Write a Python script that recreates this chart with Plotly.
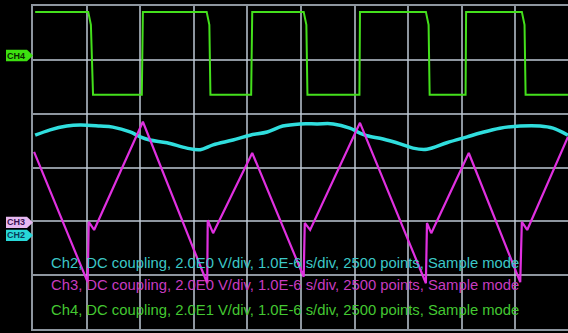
import plotly.graph_objects as go

# time in microseconds (1.0E-6 s/div), values in screen divisions (0 = bottom, 6 = top)
ch4_t = [0.04, 1.03, 1.08, 1.12, 2.03, 2.05, 3.24, 3.29, 3.31, 4.07, 4.09,
         5.05, 5.10, 5.12, 6.09, 6.10, 7.33, 7.38, 7.40, 8.07, 8.08,
         9.12, 9.17, 9.19, 9.98]
ch4_v = [5.89, 5.89, 5.65, 4.35, 4.35, 5.89, 5.89, 5.65, 4.35, 4.35, 5.89,
         5.89, 5.65, 4.35, 4.35, 5.89, 5.89, 5.65, 4.35, 4.35, 5.89,
         5.89, 5.65, 4.35, 4.35]

ch2_t = [0.04, 0.32, 0.63, 0.88, 1.25, 1.49, 1.81, 2.00, 2.18, 2.50, 2.87, 3.12,
         3.36, 3.73, 4.05, 4.37, 4.66, 4.98, 5.30, 5.60, 5.91, 6.10, 6.23, 6.53,
         6.85, 7.09, 7.35, 7.72, 8.10, 8.34, 8.71, 9.09, 9.46, 9.70, 9.98]
ch2_v = [3.60, 3.70, 3.77, 3.79, 3.77, 3.75, 3.66, 3.57, 3.51, 3.46, 3.36, 3.33,
         3.42, 3.51, 3.60, 3.66, 3.77, 3.81, 3.81, 3.81, 3.73, 3.64, 3.59, 3.53,
         3.44, 3.36, 3.34, 3.46, 3.57, 3.64, 3.73, 3.77, 3.77, 3.73, 3.60]

ch3_t = [0.02, 1.02, 1.04, 1.14, 2.05, 3.25, 3.26, 3.36, 4.09, 5.05, 5.07, 5.17,
         6.10, 7.33, 7.35, 7.43, 8.13, 9.09, 9.12, 9.22, 9.98]
ch3_v = [3.29, 0.87, 1.99, 1.84, 3.85, 0.85, 2.02, 1.78, 3.27, 0.97, 1.97, 1.84,
         3.83, 0.85, 1.97, 1.78, 3.27, 0.87, 1.99, 1.84, 3.57]

marker_names = ["CH4", "CH3", "CH2"]
marker_levels = [5.08, 1.98, 1.74]
marker_fill = ["#3de010", "#e6b8f0", "#28d8d8"]
marker_text = ["#0a2a00", "#3a1050", "#0a3a5a"]

info_lines = [
    "Ch2, DC coupling, 2.0E0 V/div, 1.0E-6 s/div, 2500 points, Sample mode",
    "Ch3, DC coupling, 2.0E0 V/div, 1.0E-6 s/div, 2500 points, Sample mode",
    "Ch4, DC coupling, 2.0E1 V/div, 1.0E-6 s/div, 2500 points, Sample mode",
]
info_levels = [1.23, 0.82, 0.35]
info_colors = ["#3cc8c8", "#c83cc0", "#44c832"]

fig = go.Figure()
fig.add_trace(go.Scatter(x=ch4_t, y=ch4_v, mode="lines",
                         line=dict(color="#44e01c", width=2)))
fig.add_trace(go.Scatter(x=ch2_t, y=ch2_v, mode="lines", line_shape="spline",
                         line=dict(color="#30dede", width=3.5)))
fig.add_trace(go.Scatter(x=ch3_t, y=ch3_v, mode="lines",
                         line=dict(color="#e030e0", width=2.2)))

grid = "rgba(190,200,212,0.75)"
fig.update_xaxes(range=[0, 9.981], dtick=1, tick0=0, showgrid=True, gridcolor=grid,
                 gridwidth=1.5, zeroline=False, showticklabels=False,
                 showline=True, mirror=True, linecolor=grid, linewidth=2)
fig.update_yaxes(range=[0, 6], dtick=1, tick0=0, showgrid=True, gridcolor=grid,
                 gridwidth=1.5, zeroline=False, showticklabels=False,
                 showline=True, linecolor=grid, linewidth=2)

shapes = []
annotations = []
x0, x1, x2 = -0.0505, -0.0112, 0.0
h = 0.105
for name, lvl, fc, tc in zip(marker_names, marker_levels, marker_fill, marker_text):
    path = f"M {x0},{lvl-h} L {x1},{lvl-h} L {x2},{lvl} L {x1},{lvl+h} L {x0},{lvl+h} Z"
    shapes.append(dict(type="path", xref="paper", yref="y", path=path,
                       fillcolor=fc, line=dict(width=0), layer="above"))
    annotations.append(dict(x=(x0 + x1) / 2, y=lvl, xref="paper", yref="y",
                            xanchor="center", yanchor="middle",
                            text=f"<b>{name}</b>", showarrow=False,
                            font=dict(size=9, color=tc, family="Liberation Sans")))
for txt, lvl, col in zip(info_lines, info_levels, info_colors):
    annotations.append(dict(x=0.03, y=lvl, xref="paper", yref="y", text=txt,
                            xanchor="left", yanchor="middle", showarrow=False,
                            font=dict(size=14.8, color=col, family="Liberation Sans")))

fig.update_layout(width=568, height=333, margin=dict(l=33, r=0, t=6, b=4),
                  paper_bgcolor="black", plot_bgcolor="black", showlegend=False,
                  shapes=shapes, annotations=annotations)
fig.write_html("out.html", config={"displayModeBar": False},
               post_script="document.body.style.margin='0';document.body.style.background='black';")
